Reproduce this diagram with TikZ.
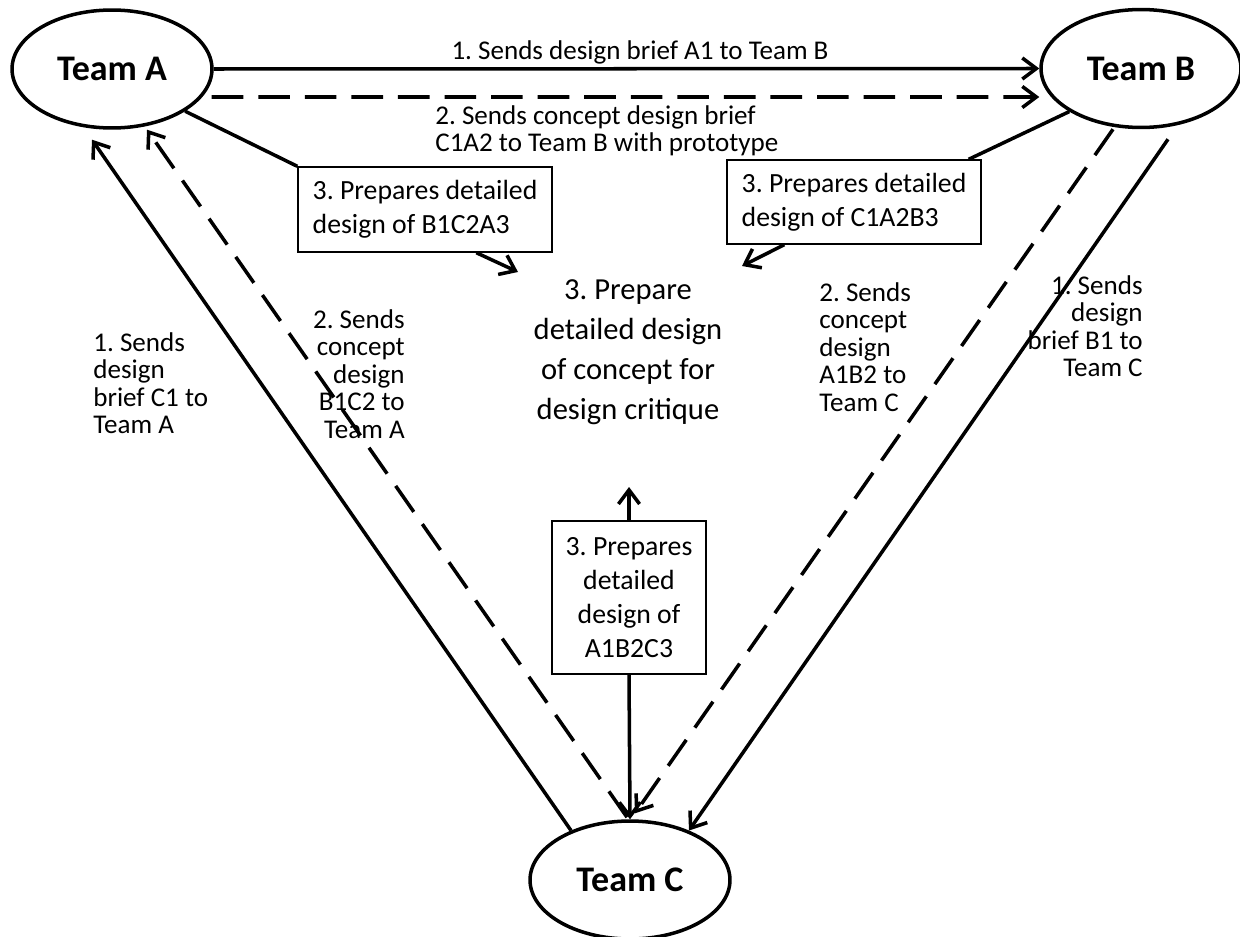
\documentclass[tikz,border=0pt]{standalone}
\usepackage{fontspec}
\setmainfont{Carlito}
\usetikzlibrary{calc}
\usetikzlibrary{shapes.geometric}
\usetikzlibrary{arrows.meta}
\frenchspacing

\begin{document}
\begin{tikzpicture}[x=0.02cm, y=-0.02cm,
    team/.style={ellipse, draw, line width=2pt, minimum width=4cm, minimum height=2.36cm,
        font=\fontsize{20.5}{24}\selectfont\bfseries},
    stepbox/.style={draw, line width=0.8pt, inner sep=0pt, font=\fontsize{15.8}{19.2}\selectfont},
    lbl/.style={inner sep=0pt, font=\fontsize{15.4}{15.6}\selectfont},
    link/.style={line width=2pt},
    flow/.style={line width=2pt, -{Straight Barb[length=8pt,width=12pt]}},
    back/.style={dash pattern=on 18pt off 8.5pt}]
        \useasboundingbox (0,0) rectangle (1240,936);
        \node[team] (tA) at (112,69) {Team A};
        \node[team] (tB) at (1141,68.5) {Team B};
        \node[team] (tC) at (630,880) {Team C};
        \node[lbl] (lAB1) at (640,52) {1. Sends design brief A1 to Team B};
        \node[lbl, align=left, anchor=west] (lAB2) at (435,131) {2. Sends concept design brief\\C1A2 to Team B with prototype};
        \node[lbl, align=left, anchor=west] (lCA1) at (93,383) {1. Sends\\design\\brief C1 to\\Team A};
        \node[lbl, align=right, anchor=east] (lCA2) at (405,374) {2. Sends\\concept\\design\\B1C2 to\\Team A};
        \node[lbl, align=left, anchor=west] (lBC2) at (819,347) {2. Sends\\concept\\design\\A1B2 to\\Team C};
        \node[lbl, align=right, anchor=east] (lBC1) at (1143,326) {1. Sends\\design\\brief B1 to\\Team C};
        \node[stepbox, align=left, minimum width=5.08cm, minimum height=1.7cm] (bxA) at (425,209.5) {3. Prepares detailed\\design of B1C2A3};
        \node[stepbox, align=left, minimum width=5.08cm, minimum height=1.68cm] (bxB) at (854,202) {3. Prepares detailed\\design of C1A2B3};
        \node[stepbox, align=center, minimum width=3.08cm, minimum height=3.06cm] (bxC) at (629,597.5) {3. Prepares\\detailed\\design of\\A1B2C3};
        \node[font=\fontsize{17.4}{22.7}\selectfont, align=center] (ctr) at (628,352) {3. Prepare\\detailed design\\of concept for\\design critique};
        \coordinate (pA) at (518,272);
        \coordinate (pB) at (742,266);
        \coordinate (pC) at (629,487);
        \draw (tA.east) edge[flow] (tB.west);
        \draw ($(tA.east)+(-2,28)$) edge[flow,back] ($(tB.west)+(0,28.5)$);
        \draw[link] (tA.-30) -- (bxA.north west);
        \draw ($(bxA.south west)+(179,0)$) edge[flow] (pA);
        \draw[link] (tB.211) -- ($(bxB.north east)+(-13,0)$);
        \draw ($(bxB.south west)+(58,0)$) edge[flow] (pB);
        \draw (bxC.north) edge[flow] (pC);
        \draw (bxC.south) edge[flow] (tC.north);
        \draw (tC.140) edge[flow] ($(tA.south)+(-20,10)$);
        \draw ($(tC.north)+(-3,-2)$) edge[flow,back] ($(tA.south)+(35,0)$);
        \draw ($(tB.south)+(-28,0)$) edge[flow,back] ($(tC.north)+(5,-6)$);
        \draw ($(tB.south)+(27,10)$) edge[flow] (tC.40);
\end{tikzpicture}
\end{document}
